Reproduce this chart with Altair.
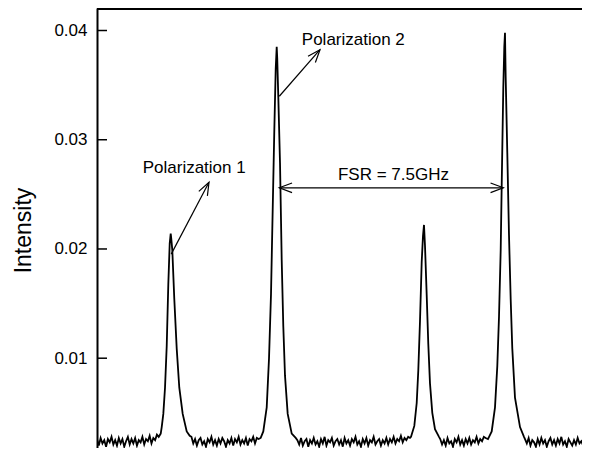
import altair as alt
import pandas as pd

# ---------------- data (frequency in GHz, intensity in a.u.) ----------------
# noisy baseline segments: start frequency, step 0.06 GHz
seg_step = 0.06
seg_starts = [0.0, 3.12, 6.62, 11.34, 14.14]
seg_values = [
    [0.0026, 0.0020, 0.0027, 0.0022, 0.0025, 0.0019, 0.0026, 0.0023, 0.0028, 0.0021,
     0.0025, 0.0020, 0.0027, 0.0022, 0.0026, 0.0019, 0.0024, 0.0028, 0.0021, 0.0026,
     0.0022, 0.0027, 0.0020, 0.0025, 0.0023, 0.0028, 0.0021, 0.0026, 0.0024, 0.0029,
     0.0022, 0.0027, 0.0025, 0.0030],
    [0.0028, 0.0022, 0.0026, 0.0020, 0.0025, 0.0027, 0.0021, 0.0024, 0.0019, 0.0026,
     0.0023, 0.0028, 0.0021, 0.0025, 0.0020, 0.0026, 0.0022, 0.0027, 0.0024, 0.0019,
     0.0025, 0.0022, 0.0027, 0.0020, 0.0026, 0.0023, 0.0028, 0.0021, 0.0025, 0.0022,
     0.0027, 0.0020, 0.0026, 0.0024, 0.0028, 0.0022, 0.0027, 0.0026],
    [0.0025, 0.0021, 0.0027, 0.0020, 0.0024, 0.0026, 0.0019, 0.0025, 0.0022, 0.0027,
     0.0021, 0.0024, 0.0019, 0.0026, 0.0022, 0.0028, 0.0020, 0.0025, 0.0023, 0.0027,
     0.0020, 0.0024, 0.0026, 0.0021, 0.0025, 0.0019, 0.0027, 0.0022, 0.0025, 0.0020,
     0.0026, 0.0023, 0.0028, 0.0021, 0.0024, 0.0019, 0.0026, 0.0022, 0.0027, 0.0020,
     0.0025, 0.0023, 0.0028, 0.0021, 0.0024, 0.0026, 0.0020, 0.0025, 0.0022, 0.0027,
     0.0021, 0.0026, 0.0023, 0.0028, 0.0022, 0.0026, 0.0024, 0.0029, 0.0023, 0.0027,
     0.0025, 0.0028, 0.0027],
    [0.0026, 0.0021, 0.0025, 0.0020, 0.0027, 0.0022, 0.0024, 0.0019, 0.0026, 0.0023,
     0.0028, 0.0021, 0.0025, 0.0020, 0.0026, 0.0022, 0.0027, 0.0021, 0.0025, 0.0023,
     0.0028, 0.0022, 0.0026, 0.0024, 0.0028, 0.0027],
    [0.0026, 0.0022, 0.0027, 0.0020, 0.0025, 0.0023, 0.0019, 0.0026, 0.0021, 0.0027,
     0.0022, 0.0025, 0.0019, 0.0024, 0.0027, 0.0021, 0.0025, 0.0020, 0.0026, 0.0022,
     0.0028, 0.0021, 0.0024, 0.0019, 0.0026, 0.0023, 0.0020, 0.0025, 0.0021, 0.0027,
     0.0022, 0.0024, 0.0020, 0.0025],
]

# resonance peaks
peak1_f = [2.039, 2.105, 2.138, 2.191, 2.247, 2.303, 2.356, 2.402, 2.435, 2.452,
           2.488, 2.554, 2.633, 2.719, 2.831, 2.964, 3.063]
peak1_i = [0.0028, 0.0031, 0.0037, 0.0049, 0.0073, 0.0111, 0.0168, 0.0205, 0.0214, 0.0210,
           0.0199, 0.0154, 0.0109, 0.0073, 0.0049, 0.0033, 0.0029]

peak2_f = [5.408, 5.494, 5.607, 5.683, 5.749, 5.792, 5.858, 5.904, 5.937, 5.954,
           5.990, 6.046, 6.102, 6.155, 6.211, 6.300, 6.433, 6.565]
peak2_i = [0.0027, 0.0033, 0.0055, 0.0100, 0.0159, 0.0219, 0.0309, 0.0365, 0.0385, 0.0375,
           0.0339, 0.0279, 0.0190, 0.0129, 0.0084, 0.0049, 0.0031, 0.0027]

peak3_f = [10.374, 10.483, 10.562, 10.615, 10.671, 10.727, 10.770, 10.803, 10.836, 10.892,
           10.945, 11.001, 11.077, 11.166, 11.299]
peak3_i = [0.0028, 0.0038, 0.0059, 0.0089, 0.0134, 0.0188, 0.0212, 0.0222, 0.0203, 0.0158,
           0.0113, 0.0077, 0.0050, 0.0035, 0.0028]

peak4_f = [12.917, 13.040, 13.149, 13.225, 13.281, 13.337, 13.370, 13.423, 13.456, 13.479,
           13.502, 13.555, 13.611, 13.667, 13.720, 13.809, 13.975, 14.107]
peak4_i = [0.0026, 0.0033, 0.0055, 0.0093, 0.0138, 0.0199, 0.0258, 0.0348, 0.0385, 0.0398,
           0.0357, 0.0288, 0.0213, 0.0154, 0.0109, 0.0064, 0.0037, 0.0028]

y_ticks = [0.01, 0.02, 0.03, 0.04]

# annotations
labels_text = ["Polarization 1", "Polarization 2", "FSR = 7.5GHz"]
labels_f = [3.211, 8.468, 9.795]
labels_i = [0.02695, 0.03869, 0.02632]

arrows_f1 = [2.452, 6.023, 6.023]
arrows_i1 = [0.01953, 0.03398, 0.02560]
arrows_f2 = [3.700, 7.367, 13.423]
arrows_i2 = [0.02610, 0.03824, 0.02560]

heads_f = [3.700, 7.367, 6.023, 13.423]
heads_i = [0.02610, 0.03824, 0.02560, 0.02560]
heads_angle = [27.5, 40.6, 270, 90]

# ---------------- build tables ----------------
rows = []
for s, vals in zip(seg_starts, seg_values):
    for k, v in enumerate(vals):
        rows.append((round(s + seg_step * k, 4), v))
for fl, il in [(peak1_f, peak1_i), (peak2_f, peak2_i), (peak3_f, peak3_i), (peak4_f, peak4_i)]:
    rows.extend(zip(fl, il))
spec = pd.DataFrame(rows, columns=["f", "i"]).sort_values("f")

ticks_df = pd.DataFrame({"t": y_ticks})
labels_df = pd.DataFrame({"f": labels_f, "i": labels_i, "txt": labels_text})
arrows_df = pd.DataFrame({"f1": arrows_f1, "i1": arrows_i1, "f2": arrows_f2, "i2": arrows_i2})
heads_df = pd.DataFrame({"f": heads_f, "i": heads_i, "a": heads_angle})

FONT = "Liberation Sans"
W, H = 485, 440
xs = alt.Scale(domain=[0, 16.023], nice=False, zero=False)
ys = alt.Scale(domain=[0.00178, 0.04206], nice=False, zero=False)

line = alt.Chart(spec).mark_line(color="black", strokeWidth=1.8, clip=True, interpolate="linear").encode(
    x=alt.X("f:Q", scale=xs, axis=None),
    y=alt.Y("i:Q", scale=ys, axis=alt.Axis(
        values=y_ticks, format=".2f", title="Intensity", grid=False,
        domainColor="black", domainWidth=2, tickSize=0, labelPadding=10,
        labelFont=FONT, labelFontSize=17, labelColor="black",
        titleFont=FONT, titleFontSize=23, titleFontWeight="normal", titleColor="black",
        titleX=-74, titleY=222, titleAngle=270, titleAlign="center", titleBaseline="middle")),
    order="f:Q",
)

ticks = alt.Chart(ticks_df).mark_rule(color="black", strokeWidth=1.5).encode(
    y=alt.Y("t:Q", scale=ys), x=alt.value(0), x2=alt.value(10))

top = alt.Chart(ticks_df).mark_rule(color="black", strokeWidth=2).encode(
    y=alt.value(1), x=alt.value(0), x2=alt.value(W))

arrows = alt.Chart(arrows_df).mark_rule(color="black", strokeWidth=1.2).encode(
    x=alt.X("f1:Q", scale=xs), y=alt.Y("i1:Q", scale=ys), x2="f2:Q", y2="i2:Q")

heads = alt.Chart(heads_df).mark_point(
    shape="M -0.38 1 L 0 0 L 0.38 1", filled=False, color="black", strokeWidth=1.2,
    size=650, opacity=1).encode(
    x=alt.X("f:Q", scale=xs), y=alt.Y("i:Q", scale=ys), angle=alt.Angle("a:Q", scale=None))

texts = alt.Chart(labels_df).mark_text(font=FONT, fontSize=17, color="black", baseline="alphabetic", align="center").encode(
    x=alt.X("f:Q", scale=xs), y=alt.Y("i:Q", scale=ys), text="txt:N")

chart = alt.layer(line, ticks, top, arrows, heads, texts).properties(
    width=W, height=H,
    autosize=alt.AutoSizeParams(type="none"),
    padding={"left": 89, "top": 0, "right": 0, "bottom": 0},
).configure_view(stroke=None)

chart.save("out.html", embed_options={"renderer": "svg", "actions": False})
